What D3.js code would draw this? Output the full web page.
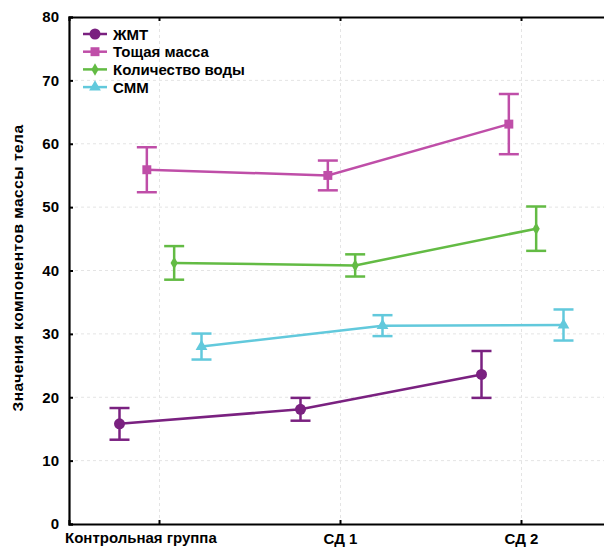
<!DOCTYPE html>
<html>
<head>
<meta charset="utf-8">
<script src="https://cdn.jsdelivr.net/npm/d3@7"></script>
<style>
  html, body { margin: 0; padding: 0; background: #fff; }
  svg { display: block; font-family: "Liberation Sans", Arial, sans-serif; }
</style>
</head>
<body>
<svg id="chart" width="604" height="547"></svg>
<script>
// Groups along the x axis
const groups = ["Контрольная группа", "СД 1", "СД 2"];

// Series names, colours and marker shapes
const seriesNames = ["ЖМТ", "Тощая масса", "Количество воды", "СММ"];
const seriesColors = ["#7a2180", "#bf4ea8", "#63bb44", "#62c9dc"];
const seriesSymbols = [d3.symbolCircle, d3.symbolSquare, d3.symbolDiamond, d3.symbolTriangle];
const symbolSizes = [95, 80, 45, 60];

// Means per group
const meansFat   = [15.8, 18.1, 23.6];
const meansLean  = [55.9, 55.0, 63.1];
const meansWater = [41.2, 40.8, 46.6];
const meansSMM   = [28.0, 31.3, 31.4];

// Error half-widths per group
const errFat   = [2.5, 1.8, 3.7];
const errLean  = [3.55, 2.35, 4.75];
const errWater = [2.65, 1.75, 3.5];
const errSMM   = [2.05, 1.65, 2.45];

const yTicks = [0, 10, 20, 30, 40, 50, 60, 70, 80];
const yTitle = "Значения компонентов массы тела";

const allMeans = [meansFat, meansLean, meansWater, meansSMM];
const allErrs = [errFat, errLean, errWater, errSMM];
const series = seriesNames.map((name, i) => ({
  name, color: seriesColors[i], symbol: seriesSymbols[i], size: symbolSizes[i],
  values: groups.map((g, j) => ({ group: g, mean: allMeans[i][j], err: allErrs[i][j] }))
}));

const svg = d3.select("#chart");
const plotLeft = 69, plotTop = 17, plotBottom = 524, plotRight = 612;

const x = d3.scaleBand().domain(groups).range([plotLeft, plotRight]).padding(0);
const xc = g => x(g) + x.bandwidth() / 2;
const dodge = d3.scalePoint().domain(seriesNames).range([-40, 42]);
const y = d3.scaleLinear().domain([0, 80]).range([plotBottom, plotTop]);

// Dotted grid
const grid = svg.append("g").attr("stroke", "#e4e4e4").attr("stroke-dasharray", "3,3").attr("stroke-width", 1);
yTicks.slice(1, -1).forEach(t => {
  grid.append("line").attr("x1", plotLeft).attr("x2", 604).attr("y1", y(t)).attr("y2", y(t));
});
groups.forEach(g => {
  grid.append("line").attr("x1", xc(g)).attr("x2", xc(g)).attr("y1", plotTop).attr("y2", plotBottom);
});

// Left axis
const yAxis = d3.axisLeft(y).tickValues(yTicks).tickSize(-4).tickPadding(10);
const gy = svg.append("g").attr("transform", `translate(${plotLeft},0)`).call(yAxis);
gy.select(".domain").attr("stroke", "#000").attr("stroke-width", 2.2);
gy.selectAll(".tick line").attr("stroke", "#000").attr("stroke-width", 2);
gy.selectAll(".tick text").attr("font-size", 15).attr("font-weight", "bold")
  .attr("font-family", "Liberation Sans, Arial, sans-serif").attr("fill", "#000");

// Bottom axis: first label starts at the axis, the others sit a little lower
const xAxis = d3.axisBottom(x).tickSize(-4).tickPadding(8);
const gx = svg.append("g").attr("transform", `translate(0,${plotBottom})`).call(xAxis);
gx.select(".domain").attr("stroke", "#000").attr("stroke-width", 2.2);
gx.selectAll(".tick line").attr("stroke", "#000").attr("stroke-width", 2);
gx.selectAll(".tick text").attr("font-size", 15).attr("font-weight", "bold")
  .attr("font-family", "Liberation Sans, Arial, sans-serif").attr("fill", "#000")
  .attr("text-anchor", (d, i) => i === 0 ? "start" : "middle")
  .attr("dx", (d, i) => i === 0 ? -(xc(d) - plotLeft) - 4 : 0)
  .attr("dy", (d, i) => i === 0 ? "0.71em" : "0.78em");

// Top frame
const xTop = d3.axisTop(x).tickSize(-4).tickFormat("");
const gt = svg.append("g").attr("transform", `translate(0,${plotTop})`).call(xTop);
gt.select(".domain").attr("stroke", "#000").attr("stroke-width", 2.2);
gt.selectAll(".tick line").attr("stroke", "#000").attr("stroke-width", 2);

// Y axis title
svg.append("text")
  .attr("transform", `translate(23,${268}) rotate(-90)`)
  .attr("text-anchor", "middle")
  .attr("font-size", 15.5).attr("font-weight", "bold")
  .attr("letter-spacing", 0.5)
  .text(yTitle);

// Series lines, error bars and markers
const line = d3.line().x(d => d.px).y(d => y(d.mean));
series.forEach(s => {
  const pts = s.values.map(v => ({ ...v, px: xc(v.group) + dodge(s.name) }));
  const g = svg.append("g").attr("stroke", s.color).attr("fill", s.color);
  g.append("path").datum(pts).attr("d", line).attr("fill", "none").attr("stroke-width", 2.5);
  pts.forEach(p => {
    const y0 = y(p.mean - p.err), y1 = y(p.mean + p.err);
    g.append("line").attr("x1", p.px).attr("x2", p.px).attr("y1", y0).attr("y2", y1).attr("stroke-width", 2.5);
    g.append("line").attr("x1", p.px - 10).attr("x2", p.px + 10).attr("y1", y0).attr("y2", y0).attr("stroke-width", 2.5);
    g.append("line").attr("x1", p.px - 10).attr("x2", p.px + 10).attr("y1", y1).attr("y2", y1).attr("stroke-width", 2.5);
    g.append("path").attr("d", d3.symbol(s.symbol, s.size)()).attr("stroke", "none")
      .attr("transform", `translate(${p.px},${y(p.mean)})`);
  });
});

// Legend
const legend = svg.append("g").attr("transform", "translate(83,34)");
series.forEach((s, i) => {
  const row = legend.append("g").attr("transform", `translate(0,${i * 17.7})`);
  row.append("line").attr("x1", 0).attr("x2", 24).attr("stroke", s.color).attr("stroke-width", 2.5);
  row.append("path").attr("d", d3.symbol(s.symbol, s.size)()).attr("fill", s.color)
    .attr("transform", "translate(12,0)");
  row.append("text").attr("x", 30).attr("y", 5.5).attr("font-size", 15).attr("font-weight", "bold")
    .attr("fill", "#000").text(s.name);
});
</script>
</body>
</html>
